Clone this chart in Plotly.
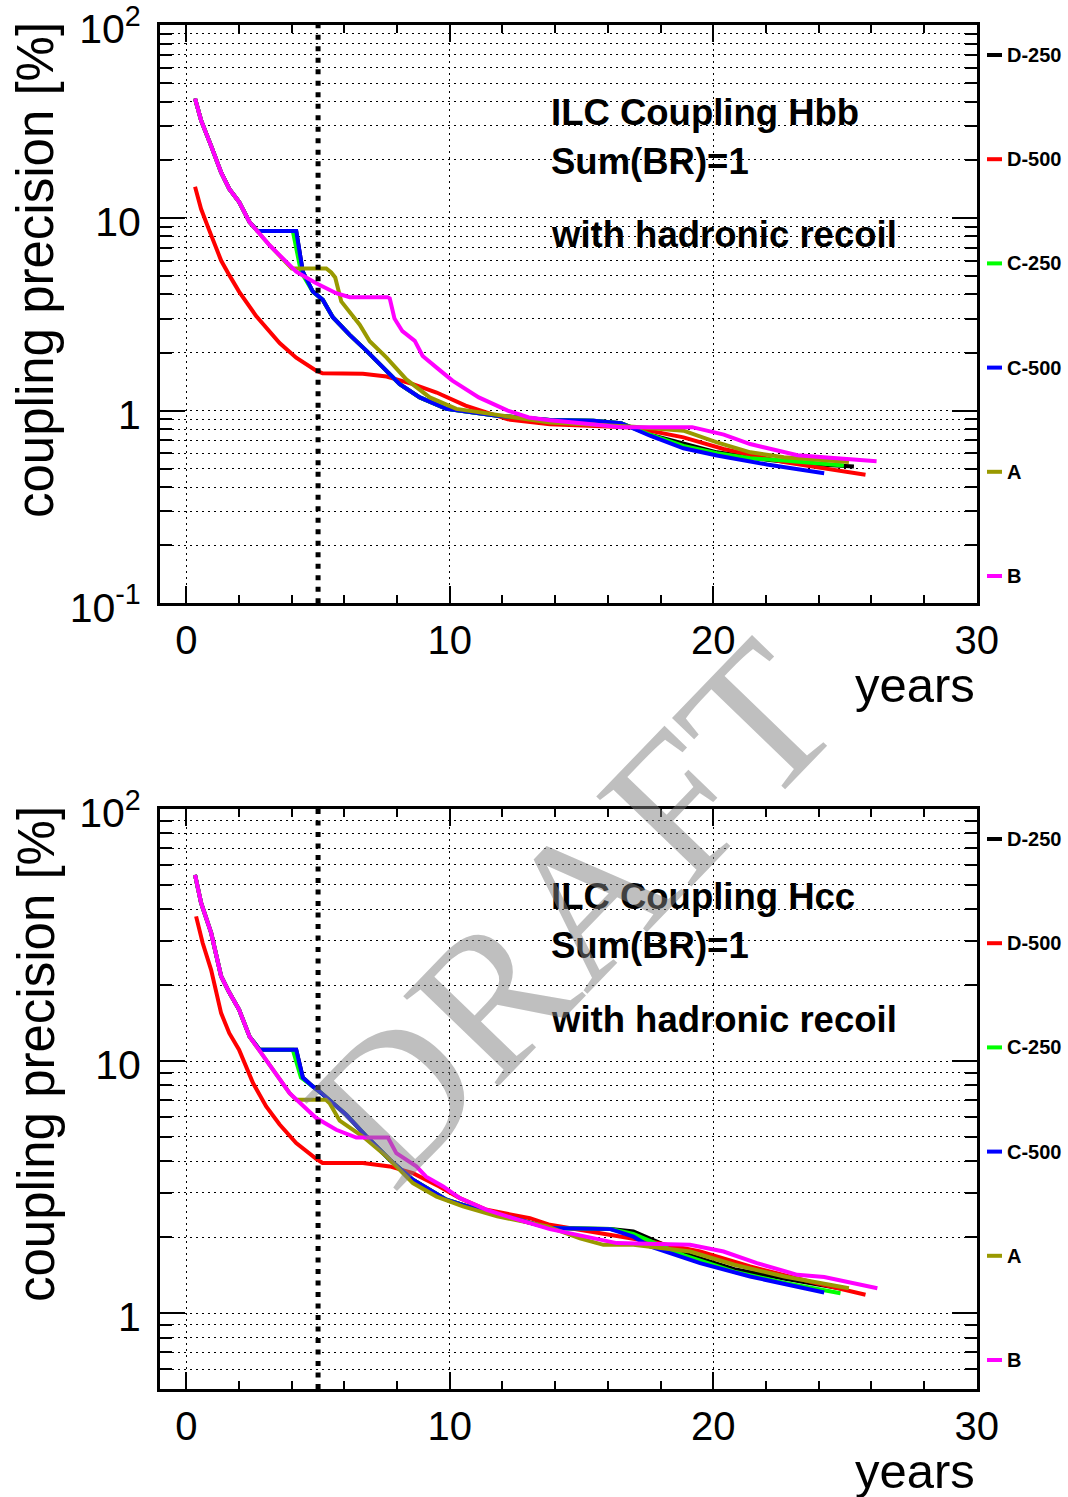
import math
import plotly.graph_objects as go

# ---------------------------------------------------------------------------
# Scenario names and colours (drawing order: last one ends up on top)
# ---------------------------------------------------------------------------
series_names = ["D-250", "D-500", "C-250", "C-500", "A", "B"]
series_colors = ["#000000", "#ff0000", "#00ff00", "#0000ff", "#999900", "#ff00ff"]

# ---------------------------------------------------------------------------
# H -> bb coupling precision [%] versus running time [years]
# ---------------------------------------------------------------------------
hbb_d250_x = [0.33, 0.56, 0.94, 1.32, 1.63, 2.0, 2.4, 2.7, 4.17, 4.42, 4.8, 5.18, 5.56, 6.2, 6.84,
              7.45, 8.1, 8.86, 9.87, 11.8, 13.8, 15.45, 16.5, 17.6, 18.87, 20.14, 22.04, 23.5, 25.34]
hbb_d250_y = [41.6, 32.0, 23.6, 17.2, 14.1, 12.1, 9.5, 8.54, 8.54, 5.25, 4.14, 3.75, 3.05, 2.47, 2.04,
              1.67, 1.37, 1.17, 1.02, 0.94, 0.892, 0.885, 0.86, 0.75, 0.671, 0.607, 0.555, 0.53, 0.513]

hbb_d500_x = [0.33, 0.56, 0.87, 1.32, 1.63, 2.0, 2.65, 3.54, 4.17, 4.93, 5.17, 6.7, 7.6, 8.6, 9.5,
              10.6, 12.2, 13.8, 16.97, 18.87, 20.39, 22.68, 25.78]
hbb_d500_y = [14.5, 11.1, 8.6, 6.0, 5.04, 4.14, 3.09, 2.24, 1.88, 1.61, 1.56, 1.55, 1.50, 1.37, 1.24,
              1.06, 0.90, 0.85, 0.817, 0.726, 0.632, 0.540, 0.464]

hbb_c250_x = [0.33, 0.56, 0.94, 1.32, 1.63, 2.0, 2.4, 2.7, 4.04, 4.35, 4.8, 5.18, 5.56, 6.2, 6.84,
              7.45, 8.1, 8.86, 9.87, 11.8, 13.8, 15.45, 16.5, 17.6, 18.87, 20.14, 21.41, 22.68, 24.96]
hbb_c250_y = [41.6, 32.0, 23.6, 17.2, 14.1, 12.1, 9.5, 8.54, 8.54, 5.25, 4.14, 3.75, 3.05, 2.47, 2.04,
              1.67, 1.37, 1.17, 1.02, 0.94, 0.892, 0.885, 0.86, 0.75, 0.655, 0.600, 0.566, 0.55, 0.519]

hbb_c500_x = [0.33, 0.56, 0.94, 1.32, 1.63, 2.0, 2.4, 2.7, 4.17, 4.42, 4.8, 5.18, 5.56, 6.2, 6.84,
              7.45, 8.1, 8.86, 9.87, 11.8, 13.8, 15.45, 16.5, 17.6, 18.87, 20.14, 22.04, 24.21]
hbb_c500_y = [41.6, 32.0, 23.6, 17.2, 14.1, 12.1, 9.5, 8.54, 8.54, 5.25, 4.14, 3.75, 3.05, 2.47, 2.04,
              1.67, 1.37, 1.17, 1.02, 0.94, 0.892, 0.885, 0.86, 0.74, 0.637, 0.584, 0.525, 0.473]

hbb_a_x = [0.33, 0.56, 0.94, 1.32, 1.63, 2.0, 2.4, 3.16, 4.0, 5.31, 5.5, 5.65, 5.88, 6.58, 6.96,
           7.6, 8.35, 9.24, 10.25, 12.4, 13.8, 16.97, 18.87, 20.14, 21.41, 22.68, 25.15]
hbb_a_y = [41.6, 32.0, 23.6, 17.2, 14.1, 12.1, 9.5, 7.2, 5.46, 5.46, 5.2, 4.9, 3.68, 2.79, 2.29,
           1.88, 1.45, 1.17, 1.02, 0.92, 0.867, 0.824, 0.786, 0.684, 0.607, 0.572, 0.540]

hbb_b_x = [0.33, 0.56, 0.94, 1.32, 1.63, 2.0, 2.4, 3.16, 4.17, 4.93, 5.69, 6.2, 7.64, 7.72, 7.9,
           8.2, 8.67, 8.97, 9.5, 10.1, 11.1, 12.2, 13.0, 13.8, 15.0, 16.5, 19.2, 20.4, 21.4, 23.2, 26.2]
hbb_b_y = [41.6, 32.0, 23.6, 17.2, 14.1, 12.1, 9.5, 7.2, 5.25, 4.57, 4.06, 3.87, 3.87, 3.82, 3.0,
           2.58, 2.3, 1.92, 1.67, 1.43, 1.17, 1.0, 0.92, 0.89, 0.86, 0.82, 0.82, 0.75, 0.67, 0.586, 0.546]

# ---------------------------------------------------------------------------
# H -> cc coupling precision [%] versus running time [years]
# ---------------------------------------------------------------------------
hcc_d250_x = [0.33, 0.56, 0.94, 1.32, 1.63, 2.0, 2.4, 2.78, 4.17, 4.42, 4.8, 5.1, 6.07, 6.84, 7.72,
              8.6, 9.87, 11.1, 12.4, 13.8, 16.1, 16.97, 18.87, 20.8, 22.68, 24.9]
hcc_d250_y = [54.8, 42.4, 32.3, 21.7, 18.7, 16.0, 12.5, 11.1, 11.1, 8.6, 7.93, 7.5, 6.12, 5.02, 4.06,
              3.38, 2.82, 2.57, 2.38, 2.175, 2.154, 2.108, 1.73, 1.495, 1.37, 1.25]

hcc_d500_x = [0.37, 0.62, 0.94, 1.32, 1.63, 2.0, 2.53, 3.03, 3.54, 4.17, 4.93, 5.17, 6.7, 7.72, 8.6,
              9.6, 10.38, 11.4, 13.04, 13.8, 16.0, 17.6, 19.5, 21.4, 23.9, 25.78]
hcc_d500_y = [37.5, 29.4, 23.0, 15.5, 12.9, 11.1, 8.18, 6.61, 5.6, 4.73, 4.09, 3.94, 3.94, 3.82, 3.59,
              3.18, 2.86, 2.57, 2.38, 2.24, 2.05, 1.924, 1.756, 1.531, 1.315, 1.182]

hcc_c250_x = [0.33, 0.56, 0.94, 1.32, 1.63, 2.0, 2.4, 2.78, 4.04, 4.35, 4.8, 5.1, 6.07, 6.84, 7.72,
              8.6, 9.87, 11.1, 12.4, 13.8, 16.1, 16.97, 18.87, 20.8, 22.68, 24.83]
hcc_c250_y = [54.8, 42.4, 32.3, 21.7, 18.7, 16.0, 12.5, 11.1, 11.1, 8.6, 7.93, 7.5, 6.12, 5.02, 4.06,
              3.38, 2.82, 2.57, 2.38, 2.175, 2.154, 2.06, 1.70, 1.46, 1.32, 1.20]

hcc_c500_x = [0.33, 0.56, 0.94, 1.32, 1.63, 2.0, 2.4, 2.78, 4.17, 4.42, 4.8, 5.1, 6.07, 6.84, 7.72,
              8.6, 9.87, 11.1, 12.4, 13.8, 16.1, 16.97, 17.6, 19.5, 21.4, 24.21]
hcc_c500_y = [54.8, 42.4, 32.3, 21.7, 18.7, 16.0, 12.5, 11.1, 11.1, 8.6, 7.93, 7.5, 6.12, 5.02, 4.06,
              3.38, 2.82, 2.57, 2.38, 2.175, 2.154, 2.01, 1.838, 1.579, 1.397, 1.207]

hcc_a_x = [0.33, 0.56, 0.94, 1.32, 1.63, 2.0, 2.4, 3.03, 3.92, 4.17, 5.3, 5.44, 5.82, 6.7, 7.6,
           8.6, 9.5, 10.5, 11.8, 13.7, 14.94, 15.83, 16.97, 19.12, 20.8, 22.7, 25.15]
hcc_a_y = [54.8, 42.4, 32.3, 21.7, 18.7, 16.0, 12.5, 10.1, 7.46, 7.02, 7.02, 6.8, 5.8, 5.02, 4.18,
           3.28, 2.9, 2.65, 2.42, 2.21, 1.98, 1.866, 1.866, 1.756, 1.555, 1.397, 1.256]

hcc_b_x = [0.33, 0.56, 0.94, 1.32, 1.63, 2.0, 2.4, 3.03, 3.92, 4.93, 5.69, 6.45, 7.65, 7.97, 8.73,
           9.1, 9.75, 10.38, 11.4, 12.4, 13.8, 16.34, 19.12, 20.39, 21.66, 23.19, 24.21, 26.23]
hcc_b_y = [54.8, 42.4, 32.3, 21.7, 18.7, 16.0, 12.5, 10.1, 7.46, 5.94, 5.34, 4.97, 4.97, 4.31, 3.82,
           3.48, 3.18, 2.86, 2.57, 2.38, 2.154, 1.896, 1.866, 1.756, 1.579, 1.419, 1.39, 1.256]

hbb_series = [(hbb_d250_x, hbb_d250_y), (hbb_d500_x, hbb_d500_y), (hbb_c250_x, hbb_c250_y),
              (hbb_c500_x, hbb_c500_y), (hbb_a_x, hbb_a_y), (hbb_b_x, hbb_b_y)]
hcc_series = [(hcc_d250_x, hcc_d250_y), (hcc_d500_x, hcc_d500_y), (hcc_c250_x, hcc_c250_y),
              (hcc_c500_x, hcc_c500_y), (hcc_a_x, hcc_a_y), (hcc_b_x, hcc_b_y)]

panel_titles = [["ILC Coupling Hbb", "Sum(BR)=1", "with hadronic recoil"],
                ["ILC Coupling Hcc", "Sum(BR)=1", "with hadronic recoil"]]

x_range = [-1, 30]
x_tick_vals = [0, 10, 20, 30]
y_ranges = [[0.1, 100], [0.5, 100]]
y_tick_vals = [0.1, 1, 10, 100]
y_tick_text = ["10<sup>-1</sup>", "1", "10", "10<sup>2</sup>"]
stage_change_year = 5  # dotted marker of the first energy stage change

# ---------------------------------------------------------------------------
# Page geometry (pixels)
# ---------------------------------------------------------------------------
W, H = 1068, 1497
FRAME_L, FRAME_R = 160, 976.7
PANEL_TOPS = [25, 809]
PANEL_BOTTOMS = [603.3, 1389]

SANS = "Liberation Sans, Arial, sans-serif"


def fx(p):
    return p / W


def fy(p):
    return 1 - p / H


fig = go.Figure()

for k, series in enumerate([hbb_series, hcc_series]):
    xa = "x" if k == 0 else "x2"
    ya = "y" if k == 0 else "y2"
    for name, color, (xs, ys) in zip(series_names, series_colors, series):
        fig.add_trace(go.Scatter(
            x=xs, y=ys, mode="lines", name=name, xaxis=xa, yaxis=ya,
            line=dict(color=color, width=4), showlegend=False,
        ))

grid_dash = "2px,4px"


def minor_log_ticks(lo, hi):
    vals = []
    e = math.floor(math.log10(lo))
    while 10 ** e < hi:
        for d in range(2, 10):
            v = d * 10 ** e
            if lo - 1e-9 <= v <= hi + 1e-9:
                vals.append(v)
        e += 1
    return vals


def xaxis_style(k):
    return dict(
        domain=[fx(FRAME_L), fx(FRAME_R)],
        anchor="y" if k == 0 else "y2",
        range=x_range,
        automargin=False,
        showline=True, linewidth=3, linecolor="black", mirror="allticks",
        ticks="inside", ticklen=17, tickwidth=2, tickcolor="black",
        tickmode="array", tickvals=x_tick_vals,
        ticktext=[str(v) for v in x_tick_vals],
        tickfont=dict(family=SANS, size=40, color="black"),
        ticklabelstandoff=0, ticklabeloverflow="allow",
        showgrid=True, gridcolor="black", gridwidth=1, griddash=grid_dash,
        zeroline=False,
        minor=dict(tickmode="linear", dtick=2, tick0=0, ticks="inside", ticklen=8, tickwidth=2,
                   tickcolor="black", showgrid=False),
    )


def yaxis_style(k):
    lo, hi = y_ranges[k]
    vals = [v for v in y_tick_vals if lo - 1e-9 <= v <= hi + 1e-9]
    text = [t for v, t in zip(y_tick_vals, y_tick_text) if lo - 1e-9 <= v <= hi + 1e-9]
    return dict(
        domain=[fy(PANEL_BOTTOMS[k]), fy(PANEL_TOPS[k])],
        anchor="x" if k == 0 else "x2",
        type="log",
        range=[math.log10(lo), math.log10(hi)],
        automargin=False,
        showline=True, linewidth=3, linecolor="black", mirror="allticks",
        ticks="inside", ticklen=25, tickwidth=2, tickcolor="black",
        tickmode="array", tickvals=vals, ticktext=text,
        tickfont=dict(family=SANS, size=41, color="black"),
        ticklabelstandoff=8, ticklabelshift=4, ticklabeloverflow="allow",
        showgrid=True, gridcolor="black", gridwidth=1, griddash=grid_dash,
        zeroline=False,
        minor=dict(tickmode="array", tickvals=minor_log_ticks(lo, hi),
                   ticks="inside", ticklen=12, tickwidth=2,
                   tickcolor="black", showgrid=True, gridcolor="black",
                   gridwidth=1, griddash=grid_dash),
    )


annotations = []
shapes = []

for k in range(2):
    top = PANEL_TOPS[k]
    bottom = PANEL_BOTTOMS[k]
    xref = "x" if k == 0 else "x2"
    yref = "y domain" if k == 0 else "y2 domain"

    # vertical dotted marker at the stage change
    shapes.append(dict(type="line", xref=xref, yref=yref,
                       x0=stage_change_year, x1=stage_change_year, y0=0, y1=1,
                       line=dict(color="black", width=5, dash="5px,6.5px"), layer="above"))

    # panel text
    for text, off in zip(panel_titles[k], [87, 136.5, 210]):
        annotations.append(dict(text="<b>%s</b>" % text, xref="paper", yref="paper",
                                x=fx(549), y=fy(top + off), xanchor="left", yanchor="middle",
                                showarrow=False, font=dict(family=SANS, size=36.5, color="black")))

    # y-axis title
    annotations.append(dict(text="coupling precision [%]", xref="paper", yref="paper",
                            x=fx(36), y=fy(top - 5), xanchor="center", yanchor="top",
                            textangle=-90, showarrow=False,
                            font=dict(family=SANS, size=51, color="black")))

    # x-axis title
    annotations.append(dict(text="years", xref="paper", yref="paper",
                            x=fx(977), y=fy(bottom + 82), xanchor="right", yanchor="middle",
                            showarrow=False, font=dict(family=SANS, size=49, color="black")))

    # legend down the right-hand side
    for i, (name, color) in enumerate(zip(series_names, series_colors)):
        yc = top + 30 + i * 104.2
        shapes.append(dict(type="line", xref="paper", yref="paper",
                           x0=fx(987), x1=fx(1002), y0=fy(yc), y1=fy(yc),
                           line=dict(color=color, width=4)))
        annotations.append(dict(text="<b>%s</b>" % name, xref="paper", yref="paper",
                                x=fx(1005), y=fy(yc), xanchor="left", yanchor="middle",
                                showarrow=False, font=dict(family=SANS, size=20, color="black")))

# watermark
annotations.append(dict(text="DRAFT", xref="paper", yref="paper",
                        x=fx(572), y=fy(912), xanchor="center", yanchor="middle",
                        textangle=-46, showarrow=False,
                        font=dict(family="Liberation Serif, Times New Roman, serif",
                                  size=200, color="rgba(128,128,128,0.5)")))

fig.update_layout(
    width=W, height=H,
    margin=dict(l=0, r=0, t=0, b=0, autoexpand=False),
    paper_bgcolor="white", plot_bgcolor="white",
    xaxis=xaxis_style(0), yaxis=yaxis_style(0),
    xaxis2=xaxis_style(1), yaxis2=yaxis_style(1),
    annotations=annotations, shapes=shapes,
    showlegend=False,
)

fig.write_html("out.html")
